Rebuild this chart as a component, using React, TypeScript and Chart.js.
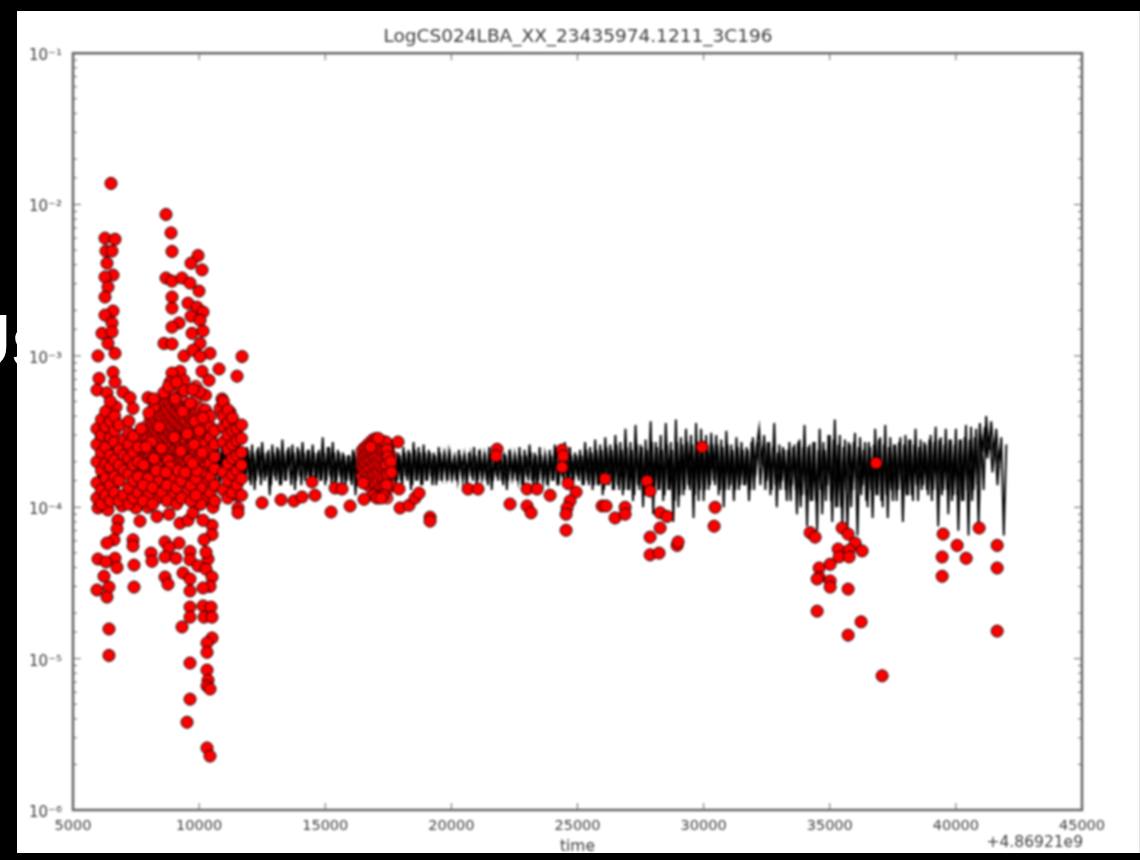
import React, { useEffect, useRef } from "react";
import { Chart, registerables } from "chart.js";

Chart.register(...registerables);

const chartTitle = "LogCS024LBA_XX_23435974.1211_3C196";
const xAxisTitle = "time";
const xOffsetLabel = "+4.86921e9";
const coverText = "Us";
const powerLabels: Record<string, string> = {
  "-1": "10⁻¹", "-2": "10⁻²", "-3": "10⁻³", "-4": "10⁻⁴", "-5": "10⁻⁵", "-6": "10⁻⁶",
};

const lineStartTime = 5900;
const lineSampleSeconds = 100;
// black trace, in units of 1e-4
const lineValuesE4 = [
  3.0,1.5,2.8,1.3,3.2,1.6,2.6,1.4,3.3,1.2,
  2.9,1.5,3.1,1.4,2.7,1.6,3.0,1.3,2.8,1.5,
  3.2,1.4,2.6,1.6,3.0,1.3,3.3,1.5,2.7,1.4,
  2.9,1.6,3.1,1.3,2.8,1.5,2.6,1.4,3.0,1.6,
  3.2,1.3,2.7,1.5,2.9,1.4,3.1,1.6,2.8,1.3,
  2.6,1.5,3.0,1.4,2.7,1.6,2.9,1.5,2.5,1.6,
  2.5,1.5,2.6,1.3,2.4,1.6,2.7,1.5,2.3,1.2,
  2.6,1.6,2.5,1.4,2.8,1.5,2.4,1.7,2.6,1.3,
  2.5,1.6,2.7,1.5,2.4,1.4,2.6,1.6,2.3,1.5,
  2.9,1.4,2.5,1.6,2.7,1.3,2.4,1.6,2.3,1.4,
  2.2,1.5,2.4,1.2,2.3,1.6,2.5,1.4,2.2,1.5,
  2.3,1.6,2.5,1.3,2.4,1.5,2.2,1.6,2.6,1.4,
  2.3,1.5,2.5,1.6,2.4,1.3,2.7,1.5,2.5,1.4,
  2.6,1.5,2.4,1.6,2.3,1.4,2.5,1.5,2.2,1.6,
  2.3,1.6,2.1,1.5,2.4,1.7,2.2,1.4,2.3,1.6,
  2.5,1.4,2.4,1.6,2.2,1.5,2.5,1.3,2.3,1.6,
  2.6,1.5,2.3,1.3,2.4,1.6,2.2,1.5,2.5,1.4,
  2.4,1.6,2.6,1.5,2.3,1.3,2.5,1.6,2.2,1.4,
  2.4,1.5,2.6,1.4,2.3,1.6,2.7,1.3,2.5,1.5,
  2.3,1.6,2.4,1.4,2.7,1.5,2.5,1.3,2.8,1.4,
  2.6,1.2,2.9,1.5,2.6,1.3,3.0,1.4,2.7,1.2,
  3.3,1.3,2.7,1.1,3.5,1.4,2.6,1.0,2.8,1.3,
  3.7,0.9,2.7,1.3,3.0,1.1,3.6,1.3,2.7,0.8,
  3.8,1.0,2.9,1.2,3.3,1.4,3.0,0.85,3.6,1.1,
  3.3,1.1,3.0,1.3,3.1,1.5,3.0,1.2,2.8,1.0,
  3.2,1.3,2.6,1.1,2.9,1.3,2.7,1.4,2.5,1.1,
  2.7,1.3,2.5,
  3.3,1.9,3.0,1.5,2.7,1.3,3.6,1.0,2.6,1.5,
  2.4,1.1,2.7,1.4,2.6,0.9,2.8,1.2,3.5,0.75,
  2.6,1.1,2.7,0.7,3.3,0.9,2.4,1.4,3.0,0.8,
  3.8,1.0,3.0,0.75,2.8,0.7,2.6,1.3,3.1,0.65,
  2.9,1.4,2.7,1.0,2.5,0.85,3.3,1.2,2.9,1.0,
  3.5,0.85,2.9,1.1,2.6,1.3,2.9,0.8,3.0,1.2,
  2.8,1.1,3.3,1.1,2.8,1.4,2.6,1.2,3.0,1.3,
  3.4,0.75,2.9,1.3,3.3,0.9,2.8,1.2,3.3,0.7,
  2.8,1.1,3.5,0.65,3.4,1.3,3.3,0.75,3.0,1.3,
  4.0,2.4,3.7,2.2,3.3,1.8,2.9,0.65,2.6,
];

const coreStartTime = 5950;
// in-between samples of the same trace, in units of 1e-4
const coreValuesE4 = [
  2.5,1.5,2.6,1.4,2.4,1.6,2.5,1.5,2.7,1.4,
  2.4,1.6,2.6,1.5,2.5,1.4,2.6,1.6,2.4,1.5,
  2.7,1.5,2.5,1.4,2.6,1.6,2.4,1.5,2.6,1.4,
  2.5,1.6,2.4,1.5,2.6,1.4,2.7,1.5,2.5,1.6,
  2.6,1.4,2.5,1.6,2.4,1.5,2.5,1.4,2.6,1.6,
  2.5,1.5,2.4,1.4,2.6,1.5,2.5,1.6,2.4,1.5,
  2.4,1.4,2.3,1.5,2.5,1.4,2.3,1.6,2.4,1.4,
  2.3,1.5,2.4,1.4,2.3,1.5,2.5,1.4,2.3,1.5,
  2.4,1.4,2.3,1.6,2.4,1.5,2.3,1.4,2.4,1.5,
  2.3,1.5,2.5,1.4,2.3,1.5,2.3,1.4,2.2,1.5,
  2.2,1.4,2.3,1.5,2.2,1.4,2.3,1.5,2.2,1.6,
  2.3,1.4,2.2,1.5,2.3,1.6,2.2,1.4,2.3,1.5,
  2.2,1.4,2.3,1.5,2.3,1.4,2.4,1.5,2.3,1.4,
  2.3,1.5,2.3,1.4,2.2,1.5,2.3,1.6,2.2,1.5,
  2.2,1.6,2.1,1.5,2.2,1.5,2.1,1.6,2.2,1.5,
  2.2,1.5,2.2,1.6,2.1,1.4,2.2,1.5,2.2,1.5,
  2.3,1.4,2.2,1.5,2.2,1.6,2.1,1.5,2.2,1.4,
  2.2,1.5,2.3,1.4,2.2,1.5,2.2,1.5,2.1,1.5,
  2.2,1.5,2.3,1.4,2.2,1.5,2.3,1.4,2.2,1.5,
  2.2,1.5,2.2,1.4,2.4,1.4,2.3,1.4,2.4,1.4,
  2.4,1.3,2.5,1.4,2.4,1.3,2.6,1.3,2.4,1.3,
  2.5,1.3,2.4,1.2,2.6,1.3,2.5,1.2,2.4,1.3,
  2.7,1.2,2.5,1.3,2.4,1.2,2.6,1.3,2.4,1.1,
  2.7,1.2,2.6,1.3,2.7,1.3,2.6,1.2,2.7,1.3,
  2.7,1.3,2.6,1.4,2.6,1.4,2.6,1.3,2.5,1.3,
  2.6,1.4,2.4,1.3,2.5,1.4,2.4,1.4,2.4,1.3,
  2.9,1.6,2.7,1.4,2.5,1.3,2.7,1.2,2.5,1.4,
  2.3,1.3,2.5,1.3,2.4,1.1,2.5,1.3,2.7,1.0,
  2.5,1.2,2.5,1.1,2.7,1.1,2.4,1.3,2.7,1.1,
  3.0,1.1,2.8,1.0,2.6,1.0,2.5,1.3,2.7,1.0,
  2.7,1.3,2.5,1.2,2.4,1.1,2.7,1.3,2.6,1.2,
  2.8,1.1,2.6,1.2,2.5,1.3,2.6,1.1,2.7,1.3,
  2.6,1.2,2.8,1.2,2.6,1.4,2.5,1.3,2.7,1.3,
  2.8,1.1,2.7,1.3,2.8,1.2,2.6,1.3,2.8,1.1,
  2.6,1.2,2.8,1.1,2.9,1.3,2.8,1.1,2.9,1.4,
  3.6,2.3,3.4,2.1,3.0,1.7,2.7,1.4,2.4,
];

// red outliers: [time offset, amplitude]
const firstBurst: [number, number][] = [
  [6507,1.38e-2],[6269,6.0e-3],[6665,5.9e-3],[6308,4.93e-3],[6546,4.93e-3],[6348,4.1e-3],[6586,3.42e-3],
  [6269,3.32e-3],[6388,2.85e-3],[6269,2.45e-3],[6586,1.98e-3],[6269,1.86e-3],[6546,1.65e-3],[6150,1.41e-3],
  [6546,1.44e-3],[6388,1.21e-3],[6665,1.04e-3],[5991,1.0e-3],[6586,7.8e-4],[6031,7.1e-4],[6665,6.7e-4],
  [5952,5.95e-4],[6983,5.76e-4],[6348,5.7e-4],[7260,5.3e-4],[7379,4.5e-4],[6705,4.6e-4],[7974,5.3e-4],[8212,4.6e-4],
];
const secondBurst: [number, number][] = [
  [8687,8.6e-3],[8886,6.5e-3],[8925,4.9e-3],[9956,4.6e-3],[9679,4.1e-3],[10115,3.7e-3],[8687,3.27e-3],[8925,3.12e-3],
  [9322,3.27e-3],[9639,3.03e-3],[9996,2.68e-3],[8925,2.45e-3],[8925,2.07e-3],[9560,2.23e-3],[9917,2.1e-3],[10155,1.95e-3],
  [9679,1.83e-3],[10036,1.72e-3],[9203,1.65e-3],[8925,1.55e-3],[9718,1.41e-3],[10155,1.46e-3],[8608,1.21e-3],[8925,1.2e-3],
  [10036,1.21e-3],[10432,1.04e-3],[9401,1.0e-3],[9758,1.09e-3],[10036,9.9e-4],[11701,9.9e-4],[10789,8.2e-4],[11503,7.35e-4],
  [10115,7.9e-4],[9243,7.9e-4],[8925,7.7e-4],[9401,6.9e-4],[10392,6.9e-4],[8846,6.7e-4],[10908,5.2e-4],[10829,4.5e-4],[11225,4.25e-4],
];
const lowerBurst: [number, number][] = [
  [5991,9.9e-5],[6388,9.6e-5],[6943,1.02e-4],[7498,9.9e-5],[6784,8.2e-5],[7657,8.1e-5],[6745,7.2e-5],[6626,6.1e-5],[6348,5.8e-5],
  [7379,6.1e-5],[7379,5.55e-5],[8648,5.9e-5],[9203,5.8e-5],[8806,5.4e-5],[9639,5.1e-5],[8093,4.98e-5],[5991,4.55e-5],[6665,4.6e-5],
  [6308,4.35e-5],[6745,4.0e-5],[7419,4.15e-5],[8132,4.4e-5],[8648,4.7e-5],[9084,4.6e-5],[9639,4.5e-5],[10353,4.55e-5],[9956,4.1e-5],
  [10274,3.9e-5],[9361,3.68e-5],[8648,3.46e-5],[8767,3.1e-5],[9639,3.36e-5],[9639,2.8e-5],[10511,3.46e-5],[10432,3.0e-5],[10155,2.93e-5],
  [6229,3.5e-5],[5952,2.84e-5],[6427,2.97e-5],[6348,2.55e-5],[7419,2.97e-5],[9639,2.19e-5],[10155,2.23e-5],[10472,2.19e-5],[9639,1.88e-5],
  [10194,1.88e-5],[10511,1.88e-5],[9322,1.62e-5],[10511,1.37e-5],[10313,1.27e-5],[6427,1.57e-5],[6427,1.05e-5],[10313,1.1e-5],[9639,9.35e-6],
  [10313,8.4e-6],[10353,7.2e-6],[10313,6.6e-6],[10432,6.3e-6],[9639,5.4e-6],[9520,3.8e-6],[10313,2.57e-6],[10432,2.27e-6],[10511,7.6e-5],
  [10511,6.6e-5],[10194,6.1e-5],[10274,5.05e-5],[9243,7.85e-5],[9560,8.2e-5],[9758,9.2e-5],[10155,8.2e-5],[8330,8.7e-5],[8806,9.0e-5],
  [11542,9.9e-5],[11542,9.2e-5],[10551,1e-4],[10036,1.05e-4],[7974,1e-4],[11503,1.2e-4],
];
// crowded columns: [time offset, amplitudes in units of 1e-4]
const brightColumns: [number, number[]][] = [
  [5950,[1.15,1.45,2.0,2.6,3.3]],[6130,[1.05,1.3,1.75,2.3,3.0,3.8]],[6300,[1.2,1.55,1.95,2.5,3.4,4.3]],
  [6480,[1.1,1.4,1.85,2.2,2.9,3.7,5.0]],[6650,[1.25,1.6,2.05,2.7,3.2,4.0]],[6830,[1.1,1.5,1.9,2.4,3.5]],
  [7020,[1.2,1.75,2.2,2.8]],[7210,[1.05,1.35,1.65,2.1,2.6,3.1,3.7]],[7400,[1.15,1.5,1.9,2.3,2.95]],
  [7590,[1.25,1.6,2.0,2.5]],[10250,[1.15,1.5,1.85,2.2,2.65,3.1,3.7,4.4,5.5]],[10440,[1.25,1.6,1.95,2.4,2.9,3.4,4.0]],
  [10620,[1.1,1.4,1.8,2.15,2.6,3.2]],[10960,[1.3,1.7,2.7,3.4,4.0,5.0]],[11140,[1.15,1.5,1.95,2.4,3.0,3.6,4.4]],
  [11320,[1.25,1.65,2.1,2.6,3.2,3.9]],[11500,[1.4,1.75,2.2,2.75,3.3]],[11680,[1.2,1.55,1.9,2.3,2.85,3.5]],
  [8350,[1.15,1.5]],[8920,[1.2,1.55]],[9490,[1.25,1.6]],[10060,[1.05,1.35,1.7]],[7970,[1.2,1.55]],[7780,[1.1,1.4]],
  [8160,[1.05,1.35]],[8540,[1.25]],[8730,[1.1,1.4]],[9110,[1.05,1.35]],[9300,[1.15,1.5]],[9680,[1.1,1.4]],[9870,[1.2,1.55]],
];
const darkColumns: [number, number[]][] = [
  [7590,[3.05,2.8]],[7700,[2.35,1.95,2.75]],[7780,[1.8,2.2,2.7,3.2]],[7880,[1.7,2.05,2.45,3.0]],[7970,[1.95,2.35,2.85,3.5]],
  [8060,[1.6,2.2,2.6,3.3,3.9]],[8160,[1.7,2.1,2.5,3.0,3.6,4.1]],[8250,[1.8,2.35,2.75,3.25,3.85]],[8350,[1.85,2.25,2.6,3.1,3.5,4.4]],
  [8450,[1.7,2.05,2.45,2.9,3.35,4.0]],[8540,[1.6,1.95,2.3,2.75,3.2,3.75,4.7]],[8640,[1.75,2.15,2.5,2.95,3.45,4.2,4.9]],
  [8730,[1.75,2.1,2.45,2.9,3.3,3.8,4.4,5.1]],[8830,[1.6,1.95,2.3,2.7,3.1,3.6,4.15,4.8]],[8920,[1.9,2.25,2.6,3.0,3.4,3.9,4.6,5.6]],
  [9020,[1.7,2.05,2.4,2.8,3.2,3.7,4.3,5.0]],[9110,[1.7,2.05,2.4,2.75,3.15,3.6,4.2,4.9]],[9210,[1.6,1.95,2.3,2.65,3.05,3.5,4.05,4.6]],
  [9300,[1.85,2.2,2.55,2.95,3.4,3.85,4.5,5.4,6.1]],[9400,[1.7,2.05,2.45,2.85,3.3,3.8,4.4]],[9490,[1.95,2.35,2.75,3.2,3.7,4.3]],
  [9590,[1.75,2.1,2.5,2.95,3.4,4.0]],[9680,[1.8,2.15,2.5,2.9,3.35,3.9,4.7]],[9780,[1.65,2.0,2.4,2.8,3.2,3.75]],
  [9870,[1.9,2.3,2.7,3.15,3.6,4.2,5.2,6.3]],[9970,[1.75,2.15,2.55,3.0,3.45,4.0]],[10060,[2.1,2.45,2.85,3.3,3.8,4.5]],
  [16450,[2.35,2.1,1.85,1.6]],[16530,[2.45,2.0,1.75]],[16600,[2.5,2.2,1.95,1.7,1.45]],[16700,[2.6,2.3,2.05,1.8,1.6,1.4]],
  [16800,[2.7,2.35,2.05,1.8,1.55,1.35]],[16900,[2.8,2.45,2.15,1.9,1.65,1.45]],[17000,[2.85,2.5,2.15,1.9,1.65,1.4,1.25]],
  [17100,[2.8,2.45,2.2,1.95,1.7,1.5,1.3]],[17200,[2.75,2.4,2.1,1.85,1.6,1.35,1.2]],[17320,[2.7,2.35,2.05,1.8,1.55,1.35]],
  [17450,[2.65,2.3,2.0,1.75,1.5,1.3,1.15]],[17600,[2.2,1.9,1.65,1.4]],
];
// loose points lying over the crowded columns, in units of 1e-4
const looseOverCrowd: [number, number][] = [
  [7700,3.3],[8010,4.2],[8200,5.2],[8420,3.4],[8600,5.7],[8780,2.05],[8790,6.3],[9010,2.9],[9050,5.2],[9280,2.35],
  [9350,4.3],[9410,5.9],[9530,3.05],[9610,2.05],[9650,4.85],[9800,2.6],[9830,3.7],[9900,1.75],[10010,3.2],[10020,5.8],
  [8210,2.1],[8100,2.7],[8500,2.45],[8860,1.85],[9170,1.75],[9450,1.7],[9740,1.95],[7800,1.9],[8300,1.75],[8680,1.7],
  [7900,2.5],[9100,6.7],[9750,6.0],[10120,2.3],[10150,3.9],
  [17400,2.7],[17450,2.4],[17480,2.15],[17420,1.9],[17480,1.65],[17430,1.4],[17300,1.2],[16900,1.2],[16500,1.45],
  [17600,2.0],[17620,1.7],[17100,2.85],[16800,2.5],[17050,1.15],
];
const sparseMiddle: [number, number][] = [
  [12494,1.07e-4],[13247,1.12e-4],[13763,1.1e-4],[14080,1.17e-4],[14595,1.2e-4],[14476,1.47e-4],[15388,1.34e-4],[15666,1.32e-4],
  [15230,9.3e-5],[15983,1.02e-4],[16538,1.13e-4],[17212,1.15e-4],[17966,9.9e-5],[18322,1.03e-4],[18560,1.15e-4],[18719,1.24e-4],
  [17926,1.32e-4],[17886,2.7e-4],[19155,8.6e-5],[19155,8.1e-5],[20662,1.32e-4],[21059,1.32e-4],[21812,2.42e-4],[21772,2.18e-4],
  [22327,1.05e-4],[23001,1.32e-4],[23398,1.32e-4],[23001,1.02e-4],[23160,9.2e-5],[23913,1.2e-4],[24389,2.39e-4],[24429,2.18e-4],
  [24389,1.84e-4],[24627,1.44e-4],[24944,1.26e-4],[24706,1.1e-4],[24587,9.9e-5],[24547,9.0e-5],[24547,7.05e-5],[26094,1.54e-4],
  [25975,1.02e-4],[26133,1.02e-4],[26490,8.5e-5],[26887,1.0e-4],[26887,9.0e-5],
];
const sparseLate: [number, number][] = [
  [27759,1.49e-4],[27878,1.28e-4],[28275,9.2e-5],[28552,8.7e-5],[28275,7.3e-5],[27878,6.35e-5],[27878,4.85e-5],[28235,4.98e-5],
  [28949,5.6e-5],[28988,5.9e-5],[29940,2.5e-4],[30455,1e-4],[30416,7.5e-5],[34222,6.8e-5],[34420,6.35e-5],[35491,7.3e-5],
  [35729,6.65e-5],[36006,5.8e-5],[36284,5.15e-5],[35333,5.3e-5],[35372,4.7e-5],[35769,5.2e-5],[35769,4.7e-5],[35016,4.2e-5],
  [34580,3.97e-5],[34580,3.46e-5],[34500,3.36e-5],[35016,3.26e-5],[35016,2.97e-5],[35729,2.88e-5],[34500,2.06e-5],[36244,1.75e-5],
  [35729,1.43e-5],[37077,7.7e-6],[36839,1.96e-4],[39496,6.65e-5],[39456,4.7e-5],[39456,3.5e-5],[40051,5.6e-5],[40408,4.6e-5],
  [40923,7.3e-5],[41637,5.6e-5],[41637,3.97e-5],[41637,1.52e-5],
];

const FONT = "'DejaVu Sans', sans-serif";
const TEXT = "#3d3d3d";
const SPINE = "#666666";

const matplotlibFrame = {
  id: "matplotlibFrame",
  afterDatasetsDraw(chart: any) {
    const { ctx, chartArea: a, scales } = chart;
    ctx.save();
    ctx.strokeStyle = SPINE;
    ctx.lineWidth = 1;
    ctx.beginPath();
    for (const t of scales.x.ticks) {
      const px = scales.x.getPixelForValue(t.value);
      ctx.moveTo(px, a.bottom);
      ctx.lineTo(px, a.bottom - 7);
      ctx.moveTo(px, a.top);
      ctx.lineTo(px, a.top + 7);
    }
    for (const t of scales.y.ticks) {
      const py = scales.y.getPixelForValue(t.value);
      const len = t.major ? 8 : 4;
      ctx.moveTo(a.left, py);
      ctx.lineTo(a.left + len, py);
      ctx.moveTo(a.right, py);
      ctx.lineTo(a.right - len, py);
    }
    ctx.stroke();
    ctx.lineWidth = 2.5;
    ctx.strokeRect(a.left, a.top, a.right - a.left, a.bottom - a.top);
    ctx.fillStyle = TEXT;
    ctx.font = `15.5px ${FONT}`;
    ctx.textAlign = "right";
    ctx.textBaseline = "middle";
    ctx.fillText(xOffsetLabel, a.right + 1, a.bottom + 33);
    ctx.restore();
  },
};

const flatten = (cols: [number, number[]][]) =>
  cols.flatMap(([t, vs]) => vs.map((v) => ({ x: t, y: v * 1e-4 })));
const toPoints = (rows: [number, number][]) => rows.map(([x, y]) => ({ x, y }));

export default function App() {
  const ref = useRef<HTMLCanvasElement | null>(null);
  useEffect(() => {
    if (!ref.current) return;
    const linePoints = lineValuesE4.map((v, i) => ({ x: lineStartTime + i * lineSampleSeconds, y: v * 1e-4 }));
    const corePoints = coreValuesE4.map((v, i) => ({ x: coreStartTime + i * lineSampleSeconds, y: v * 1e-4 }));
    const outliers = [
      ...toPoints(firstBurst),
      ...toPoints(secondBurst),
      ...toPoints(lowerBurst),
      ...flatten(brightColumns),
      ...looseOverCrowd.map(([x, v]) => ({ x, y: v * 1e-4 })),
      ...toPoints(sparseMiddle),
      ...toPoints(sparseLate),
    ];
    const redStyle = { borderColor: "#1a0000", borderWidth: 1, pointRadius: 6 };
    const chart = new Chart(ref.current, {
      type: "scatter",
      data: {
        datasets: [
          { label: "outliers", data: outliers, order: 1, backgroundColor: "#ff0000", ...redStyle },
          { label: "crowded outliers", data: flatten(darkColumns), order: 2, backgroundColor: "rgba(240,0,0,0.85)", ...redStyle, borderColor: "rgba(40,0,0,0.75)" },
          { label: "amplitude", data: linePoints, order: 3, showLine: true, borderColor: "#000", borderWidth: 1.9, pointRadius: 0, tension: 0 },
          { label: "amplitude samples", data: corePoints, order: 3, showLine: true, borderColor: "#000", borderWidth: 1.9, pointRadius: 0, tension: 0 },
        ],
      },
      options: {
        responsive: false,
        animation: false,
        events: [],
        plugins: {
          legend: { display: false },
          tooltip: { enabled: false },
          title: {
            display: true,
            text: chartTitle,
            color: TEXT,
            font: { family: FONT, size: 18.5, weight: "normal" },
            padding: { top: 15, bottom: 5 },
          },
        },
        scales: {
          x: {
            type: "linear",
            min: 5000,
            max: 45000,
            afterFit(s: any) { s.height = 43; },
            title: { display: true, text: xAxisTitle, color: TEXT, font: { family: FONT, size: 15.5 }, padding: { top: 0, bottom: -3 } },
            grid: { drawOnChartArea: false, drawTicks: false },
            border: { display: false },
            ticks: {
              stepSize: 5000,
              maxRotation: 0,
              padding: 8,
              color: TEXT,
              font: { family: FONT, size: 14.5 },
              callback: (v: any) => String(v),
            },
          },
          y: {
            type: "logarithmic",
            min: 1e-6,
            max: 1e-1,
            afterFit(s: any) { s.width = 56; },
            grid: { drawOnChartArea: false, drawTicks: false },
            border: { display: false },
            afterBuildTicks(s: any) {
              s.ticks.forEach((t: any) => {
                t.major = Math.abs(Math.log10(t.value) - Math.round(Math.log10(t.value))) < 1e-6;
              });
            },
            ticks: {
              autoSkip: false,
              padding: 11,
              labelOffset: 3,
              color: TEXT,
              font: { family: FONT, size: 15 },
              callback: (v: any) => {
                const e = Math.log10(Number(v));
                return Math.abs(e - Math.round(e)) < 1e-6 ? powerLabels[String(Math.round(e))] : "";
              },
            },
          },
          rightMargin: {
            type: "linear",
            position: "right",
            afterFit(s: any) { s.width = 57; },
            grid: { display: false },
            border: { display: false },
            ticks: { display: false },
          },
        },
      },
      plugins: [matplotlibFrame],
    } as any);
    return () => chart.destroy();
  }, []);

  return (
    <div style={{ position: "fixed", inset: 0, background: "#000", overflow: "hidden" }}>
      <div
        style={{
          position: "absolute", left: -44, top: 297, color: "#fff",
          font: "bold 76px 'Liberation Sans', sans-serif", whiteSpace: "nowrap",
        }}
      >
        {coverText}
      </div>
      <div
        style={{
          position: "absolute", left: 17, top: 11, width: 1122, height: 842,
          background: "#fff", borderRight: "1px solid #e2e2e2",
        }}
      >
        <canvas ref={ref} width={1122} height={842} style={{ display: "block", filter: "blur(1px)" }} />
      </div>
    </div>
  );
}
